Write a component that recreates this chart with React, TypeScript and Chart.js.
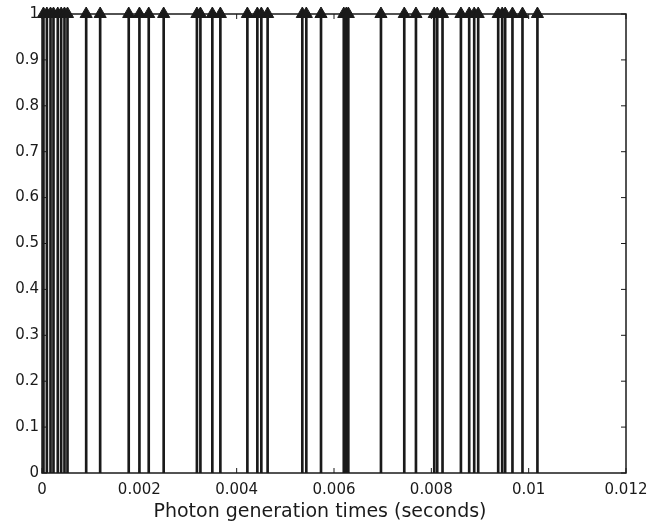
import { useEffect, useRef } from "react";
import { Chart, registerables } from "chart.js";

Chart.register(...registerables);

// Photon arrival instants (seconds), each drawn as a unit stem
const photonTimes = [
  0.00003, 0.0001, 0.000175, 0.000236, 0.000324, 0.000394, 0.000462, 0.000524,
  0.000908, 0.001195, 0.001782, 0.002002, 0.002193, 0.0025,
  0.003183, 0.003255, 0.0035, 0.003665, 0.00422, 0.004425, 0.004507, 0.004636,
  0.005349, 0.005431, 0.005733, 0.006201, 0.006253, 0.006294, 0.006965,
  0.007444, 0.007684, 0.00806, 0.008121, 0.00823, 0.008608, 0.008778, 0.008881,
  0.008963, 0.009374, 0.009456, 0.009517, 0.009667, 0.009873, 0.01018,
];
const stemHeight = 1;
const xTicks = [0, 0.002, 0.004, 0.006, 0.008, 0.01, 0.012];
const yTicks = [0, 0.1, 0.2, 0.3, 0.4, 0.5, 0.6, 0.7, 0.8, 0.9, 1];
const xTitle = "Photon generation times (seconds)";

const INK = "#1a1a1a";
const FONT = "'DejaVu Sans', 'Liberation Sans', Arial, sans-serif";

const fmt = (v: number) => String(+Number(v).toFixed(4));

// Box around the plot area with inward tick marks on every side,
// plus the x-axis caption drawn a little left of the axis centre
const framePlugin = {
  id: "frame",
  beforeDatasetsDraw(chart: any) {
    const { ctx, chartArea: a, scales } = chart;
    ctx.save();
    ctx.strokeStyle = INK;
    ctx.lineWidth = 1.5;
    ctx.strokeRect(a.left, a.top, a.right - a.left, a.bottom - a.top);
    ctx.lineWidth = 1;
    const len = 5;
    ctx.beginPath();
    for (const v of xTicks) {
      const px = scales.x.getPixelForValue(v);
      ctx.moveTo(px, a.bottom);
      ctx.lineTo(px, a.bottom - len);
      ctx.moveTo(px, a.top);
      ctx.lineTo(px, a.top + len);
    }
    for (const v of yTicks) {
      const py = scales.y.getPixelForValue(v);
      ctx.moveTo(a.left, py);
      ctx.lineTo(a.left + len, py);
      ctx.moveTo(a.right, py);
      ctx.lineTo(a.right - len, py);
    }
    ctx.stroke();
    ctx.restore();
  },
  afterDraw(chart: any) {
    const { ctx, chartArea: a } = chart;
    ctx.save();
    ctx.fillStyle = INK;
    ctx.font = `19px ${FONT}`;
    ctx.textAlign = "center";
    ctx.textBaseline = "middle";
    ctx.fillText(xTitle, (a.left + a.right) / 2 - 14, a.bottom + 39);
    ctx.restore();
  },
};

export default function App() {
  const canvasRef = useRef<HTMLCanvasElement | null>(null);

  useEffect(() => {
    if (!canvasRef.current) return;
    const chart = new Chart(canvasRef.current, {
      type: "bar",
      data: {
        datasets: [
          {
            type: "bar",
            data: photonTimes.map((t) => ({ x: t, y: stemHeight })),
            backgroundColor: INK,
            borderWidth: 0,
            barThickness: 2,
            order: 2,
          } as any,
          {
            type: "scatter",
            data: photonTimes.map((t) => ({ x: t, y: stemHeight })),
            pointStyle: "triangle",
            pointRadius: 7,
            pointBackgroundColor: INK,
            pointBorderColor: INK,
            pointBorderWidth: 1,
            clip: false,
            order: 1,
          } as any,
        ],
      },
      options: {
        animation: false,
        responsive: true,
        maintainAspectRatio: false,
        layout: { padding: { top: 14, right: 21, left: 0, bottom: 0 } },
        plugins: {
          legend: { display: false },
          tooltip: { enabled: false },
        },
        scales: {
          x: {
            type: "linear",
            min: 0,
            max: 0.012,
            offset: false,
            grid: { display: false, drawTicks: false, offset: false },
            border: { display: false },
            afterBuildTicks: (s: any) => {
              s.ticks = xTicks.map((v) => ({ value: v }));
            },
            afterFit: (s: any) => {
              s.height = 53;
              s.paddingLeft = 0;
              s.paddingRight = 0;
            },
            ticks: {
              color: INK,
              font: { family: FONT, size: 15 },
              padding: 8,
              maxRotation: 0,
              autoSkip: false,
              callback: (v: any) => fmt(v),
            },
            title: { display: false },
          },
          y: {
            type: "linear",
            min: 0,
            max: 1,
            grid: { display: false, drawTicks: false },
            border: { display: false },
            afterBuildTicks: (s: any) => {
              s.ticks = yTicks.map((v) => ({ value: v }));
            },
            afterFit: (s: any) => {
              s.width = 42;
              s.paddingTop = 0;
              s.paddingBottom = 0;
            },
            ticks: {
              color: INK,
              font: { family: FONT, size: 15 },
              padding: 3,
              autoSkip: false,
              callback: (v: any) => fmt(v),
            },
          },
        },
      } as any,
      plugins: [framePlugin],
    });
    return () => chart.destroy();
  }, []);

  return (
    <div
      style={{
        position: "fixed",
        left: 0,
        top: 0,
        width: 647,
        height: 526,
        background: "#ffffff",
      }}
    >
      <canvas ref={canvasRef} />
    </div>
  );
}
